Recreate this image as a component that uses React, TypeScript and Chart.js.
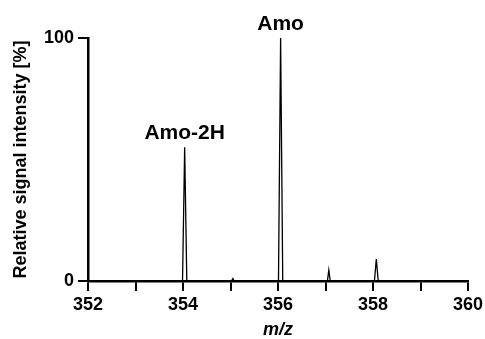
import React, { useEffect, useRef } from "react";
import { Chart, registerables } from "chart.js";

Chart.register(...registerables);

// m/z values and relative intensities
const mzValues = [
  352.0, 353.99, 354.035, 354.08,
  355.02, 355.05, 355.08,
  356.01, 356.055, 356.1,
  357.04, 357.07, 357.1,
  358.03, 358.07, 358.11, 360.0,
];
const intensities = [
  0, 0, 55, 0,
  0, 1, 0,
  0, 100, 0,
  0, 4.5, 0,
  0, 9, 0, 0,
];

const peakLabels = ["Amo-2H", "Amo"];
const peakLabelMz = [354.035, 356.055];
const peakLabelIntensity = [55, 100];

const xTickValues = [352, 353, 354, 355, 356, 357, 358, 359, 360];
const yTickValues = [0, 100];

const xTitle = "m/z";
const yTitle = "Relative signal intensity [%]";

const FONT = "'Liberation Sans', Arial, Helvetica, sans-serif";

export default function App() {
  const ref = useRef<HTMLCanvasElement | null>(null);

  useEffect(() => {
    if (!ref.current) return;
    const textPlugin = {
      id: "textPlugin",
      afterDraw(chart: any) {
        const ctx = chart.ctx;
        const xs = chart.scales.x;
        const ys = chart.scales.y;
        ctx.save();
        ctx.fillStyle = "#000";
        ctx.font = `bold 21px ${FONT}`;
        ctx.textAlign = "center";
        ctx.textBaseline = "alphabetic";
        peakLabels.forEach((lab, i) => {
          const px = xs.getPixelForValue(peakLabelMz[i]);
          const py = ys.getPixelForValue(peakLabelIntensity[i]);
          ctx.fillText(lab, px, py - 8);
        });
        // x title
        ctx.font = `italic bold 18px ${FONT}`;
        ctx.textBaseline = "middle";
        ctx.fillText(xTitle, (xs.left + xs.right) / 2, 330);
        // y title
        ctx.translate(21, (ys.top + ys.bottom) / 2);
        ctx.rotate(-Math.PI / 2);
        ctx.font = `bold 18px ${FONT}`;
        ctx.fillText(yTitle, 0, 0);
        ctx.restore();
      },
    };

    const chart = new Chart(ref.current, {
      type: "line",
      data: {
        datasets: [
          {
            data: mzValues.map((x, i) => ({ x, y: intensities[i] })),
            borderColor: "#000",
            borderWidth: 1.3,
            pointRadius: 0,
            tension: 0,
            fill: false,
          },
        ],
      },
      options: {
        animation: false,
        responsive: true,
        maintainAspectRatio: false,
        layout: { padding: { top: 38, right: 17, left: 0, bottom: 0 } },
        plugins: { legend: { display: false }, tooltip: { enabled: false } },
        scales: {
          x: {
            type: "linear",
            min: 352,
            max: 360,
            afterBuildTicks: (s: any) => {
              s.ticks = xTickValues.map((v) => ({ value: v }));
            },
            afterFit: (s: any) => {
              s.height = 58;
              s.paddingLeft = 0;
              s.paddingRight = 0;
            },
            ticks: {
              autoSkip: false,
              maxRotation: 0,
              padding: 3,
              color: "#000",
              font: { family: FONT, size: 18, weight: "bold" },
              callback: (v: any) => (Number(v) % 2 === 0 ? String(v) : ""),
            },
            grid: {
              display: true,
              drawOnChartArea: false,
              drawTicks: true,
              tickLength: 10,
              color: "#000",
              lineWidth: 2,
            },
            border: { display: true, color: "#000", width: 2.5 },
          },
          y: {
            min: 0,
            max: 100,
            afterBuildTicks: (s: any) => {
              s.ticks = yTickValues.map((v) => ({ value: v }));
            },
            afterFit: (s: any) => {
              s.width = 88;
              s.paddingTop = 0;
              s.paddingBottom = 0;
            },
            ticks: {
              padding: 4,
              color: "#000",
              font: { family: FONT, size: 18, weight: "bold" },
            },
            grid: {
              display: true,
              drawOnChartArea: false,
              drawTicks: true,
              tickLength: 10,
              color: "#000",
              lineWidth: 2,
            },
            border: { display: true, color: "#000", width: 2.5 },
          },
        },
      },
      plugins: [textPlugin],
    } as any);
    return () => chart.destroy();
  }, []);

  return (
    <div style={{ position: "absolute", left: 0, top: 0, width: 485, height: 339, background: "#fff" }}>
      <canvas ref={ref} />
    </div>
  );
}
